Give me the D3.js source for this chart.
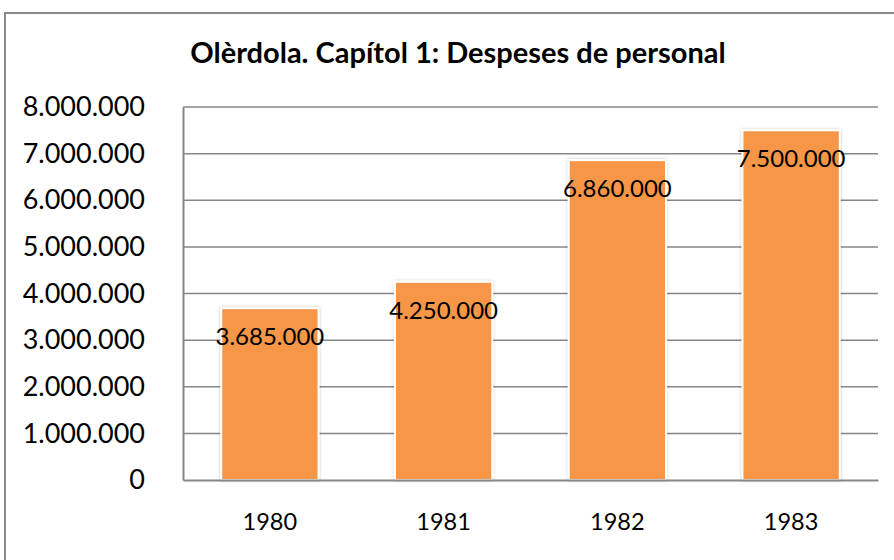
<!DOCTYPE html>
<html><head><meta charset="utf-8">
<script src="https://cdn.jsdelivr.net/npm/d3@7"></script>
<style>body{margin:0;background:#fff}svg{display:block}</style>
</head><body>
<svg id="c" width="894" height="560"></svg>
<script>
const title = "Olèrdola. Capítol 1: Despeses de personal";
const categories = ["1980","1981","1982","1983"];
const values = [3685000, 4250000, 6860000, 7500000];
const yTicks = [0,1000000,2000000,3000000,4000000,5000000,6000000,7000000,8000000];

const svg = d3.select("#c");
const font = "Lato, 'Open Sans', sans-serif";
const fmt = v => d3.format(",")(v).replace(/,/g, ".");

const m = {left:183, right:878, top:107, bottom:480};
const x = d3.scaleBand().domain(categories).range([m.left, m.right]).paddingInner(0.44).paddingOuter(0.22);
const y = d3.scaleLinear().domain([0, 8000000]).range([m.bottom, m.top]);

// outer border
svg.append("rect").attr("x",5).attr("y",13).attr("width",900).attr("height",560)
  .attr("fill","none").attr("stroke","#8a8a8a").attr("stroke-width",2);

const defs = svg.append("defs");
const f = defs.append("filter").attr("id","sh").attr("x","-20%").attr("y","-20%").attr("width","140%").attr("height","140%");
f.append("feDropShadow").attr("dx",0).attr("dy",0).attr("stdDeviation",1.5).attr("flood-color","#000").attr("flood-opacity",0.25);

// title
svg.append("text").attr("x",458).attr("y",63).attr("text-anchor","middle")
  .attr("font-family",font).attr("font-weight","bold").attr("font-size",29).attr("fill","#000").text(title);

// gridlines
svg.append("g").selectAll("line").data(yTicks.slice(1)).join("line")
  .attr("x1",m.left).attr("x2",m.right).attr("y1",d=>y(d)).attr("y2",d=>y(d))
  .attr("stroke","#868686").attr("stroke-width",1.5);

// y axis
const ya = svg.append("g").attr("transform",`translate(${m.left},0)`)
  .call(d3.axisLeft(y).tickValues(yTicks).tickFormat(fmt).tickSize(0).tickPadding(38));
ya.select(".domain").attr("stroke","#868686").attr("stroke-width",2);
ya.selectAll("text").attr("font-family",font).attr("font-size",27).attr("fill","#000");

// bars
svg.append("g").selectAll("rect").data(values).join("rect")
  .attr("x",(d,i)=>x(categories[i])).attr("width",x.bandwidth())
  .attr("y",d=>y(d)).attr("height",d=>y(0)-y(d))
  .attr("fill","#F79646").attr("stroke","#fff").attr("stroke-width",2).attr("filter","url(#sh)");

// x axis
const xa = svg.append("g").attr("transform",`translate(0,${m.bottom})`)
  .call(d3.axisBottom(x).tickSize(0).tickPadding(33));
xa.select(".domain").attr("stroke","#868686").attr("stroke-width",2);
xa.selectAll("text").attr("font-family",font).attr("font-size",23.5).attr("fill","#000");

// labels
svg.append("g").selectAll("text").data(values).join("text")
  .attr("x",(d,i)=>x(categories[i])+x.bandwidth()/2).attr("y",d=>y(d)+37)
  .attr("text-anchor","middle").attr("font-family",font).attr("font-size",24).attr("fill","#000")
  .text(fmt);
</script>
</body></html>
